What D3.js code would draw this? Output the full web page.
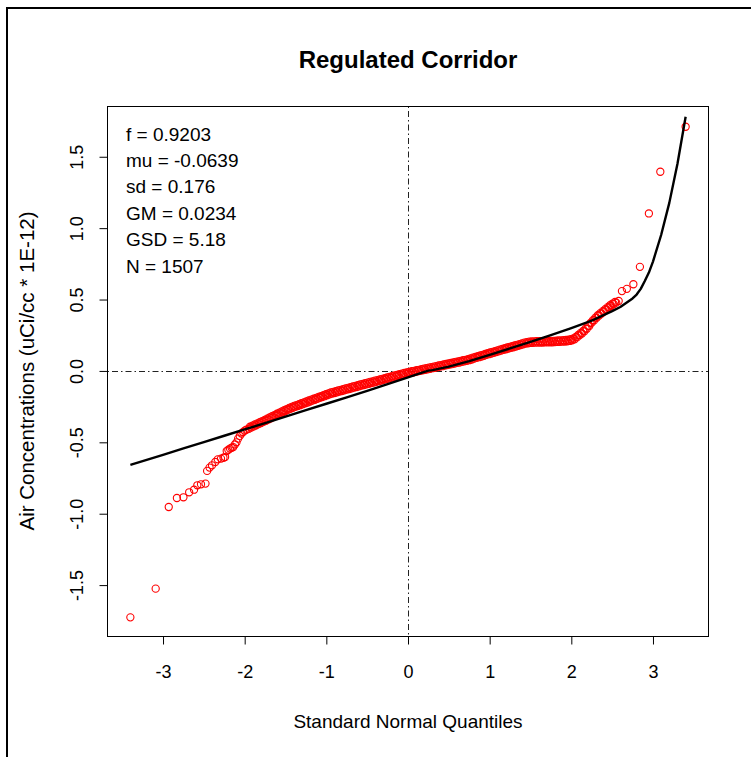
<!DOCTYPE html>
<html>
<head>
<meta charset="utf-8">
<script src="https://cdn.jsdelivr.net/npm/d3@7"></script>
<style>
  html, body { margin: 0; padding: 0; background: #fff; }
  svg { display: block; }
  text { font-family: "Liberation Sans", Arial, sans-serif; fill: #000; }
</style>
</head>
<body>
<svg id="chart" width="751" height="757"></svg>
<script>
// ---- data -------------------------------------------------------------
const title = "Regulated Corridor";
const xLabel = "Standard Normal Quantiles";
const yLabel = "Air Concentrations (uCi/cc * 1E-12)";
const statLines = ["f = 0.9203", "mu = -0.0639", "sd = 0.176", "GM = 0.0234", "GSD = 5.18", "N = 1507"];

const xTicks = [-3, -2, -1, 0, 1, 2, 3];
const yTicks = [-1.5, -1.0, -0.5, 0.0, 0.5, 1.0, 1.5];

// lower tail of the sample (theoretical quantile, observed value)
const lowerQ = [-3.40, -3.09, -2.93, -2.83, -2.75, -2.68, -2.62, -2.58, -2.535, -2.48, -2.46, -2.43, -2.40, -2.36, -2.33,
                -2.29, -2.26, -2.24, -2.22, -2.20, -2.18, -2.16, -2.14, -2.12, -2.10, -2.08, -2.06, -2.04, -2.02, -2.00, -1.98];
const lowerV = [-1.726, -1.525, -0.953, -0.890, -0.885, -0.850, -0.832, -0.801, -0.794, -0.789, -0.700, -0.677, -0.661, -0.638, -0.619,
                -0.614, -0.608, -0.603, -0.561, -0.552, -0.544, -0.538, -0.533, -0.515, -0.500, -0.474, -0.455, -0.439, -0.428, -0.418, -0.412];

// central body of the sample, lower run
const bodyQ = [-1.95, -1.92, -1.89, -1.86, -1.83, -1.80, -1.77, -1.74, -1.71, -1.68, -1.65, -1.62, -1.59, -1.56, -1.53, -1.50,
               -1.47, -1.44, -1.41, -1.38, -1.35, -1.32, -1.29, -1.26, -1.23, -1.20, -1.17, -1.14, -1.11, -1.08, -1.05, -1.02,
               -0.99, -0.96, -0.93, -0.90, -0.87, -0.84, -0.81, -0.78, -0.75, -0.72, -0.69, -0.66, -0.63, -0.60, -0.57, -0.54,
               -0.51, -0.48, -0.45, -0.42, -0.39, -0.36, -0.33, -0.30, -0.27, -0.24, -0.21, -0.18, -0.15, -0.12, -0.09, -0.06,
               -0.03, 0.00, 0.03, 0.06, 0.09, 0.12, 0.15, 0.18, 0.21, 0.24, 0.27, 0.30, 0.33, 0.36, 0.39, 0.42,
               0.45, 0.48, 0.51, 0.54, 0.57, 0.60, 0.63, 0.66, 0.69, 0.72, 0.75, 0.78, 0.81, 0.84, 0.87, 0.90,
               0.93, 0.96, 0.99, 1.02, 1.05, 1.08, 1.11, 1.14, 1.17, 1.20, 1.23, 1.26, 1.29, 1.32, 1.35, 1.38,
               1.41, 1.44, 1.47, 1.50, 1.53, 1.56, 1.59, 1.62, 1.65, 1.68, 1.71, 1.74, 1.77, 1.80, 1.83, 1.86,
               1.89, 1.92, 1.95, 1.98, 2.01, 2.04, 2.07, 2.10, 2.13, 2.16, 2.19, 2.22, 2.25, 2.28, 2.31, 2.34,
               2.37, 2.40, 2.43, 2.46, 2.49, 2.52, 2.55];
const bodyV = [-0.405, -0.397, -0.389, -0.381, -0.373, -0.365, -0.357, -0.349, -0.340, -0.332, -0.323, -0.315, -0.306, -0.298, -0.290, -0.281,
               -0.273, -0.265, -0.259, -0.252, -0.246, -0.240, -0.233, -0.227, -0.221, -0.214, -0.208, -0.202, -0.196, -0.189, -0.183, -0.177,
               -0.170, -0.164, -0.159, -0.155, -0.150, -0.145, -0.141, -0.136, -0.131, -0.127, -0.122, -0.117, -0.113, -0.108, -0.103, -0.099,
               -0.094, -0.090, -0.085, -0.081, -0.076, -0.072, -0.067, -0.063, -0.058, -0.054, -0.049, -0.045, -0.040, -0.036, -0.031, -0.027,
               -0.022, -0.018, -0.014, -0.011, -0.007, -0.003, 0.000, 0.004, 0.008, 0.011, 0.015, 0.019, 0.022, 0.026, 0.030, 0.033,
               0.037, 0.041, 0.044, 0.048, 0.052, 0.056, 0.059, 0.063, 0.067, 0.070, 0.075, 0.080, 0.086, 0.091, 0.096, 0.101,
               0.106, 0.112, 0.117, 0.122, 0.127, 0.132, 0.137, 0.142, 0.147, 0.152, 0.157, 0.162, 0.166, 0.171, 0.176, 0.181,
               0.186, 0.191, 0.194, 0.196, 0.197, 0.198, 0.198, 0.199, 0.199, 0.200, 0.200, 0.201, 0.201, 0.202, 0.203, 0.204,
               0.205, 0.206, 0.208, 0.210, 0.215, 0.222, 0.235, 0.250, 0.262, 0.278, 0.295, 0.315, 0.338, 0.355, 0.372, 0.388,
               0.402, 0.416, 0.430, 0.444, 0.456, 0.468, 0.478];

// central body of the sample, upper run (interleaved with the lower run)
const bodyQ2 = [-1.935, -1.905, -1.875, -1.845, -1.815, -1.785, -1.755, -1.725, -1.695, -1.665, -1.635, -1.605, -1.575, -1.545, -1.515, -1.485,
                -1.455, -1.425, -1.395, -1.365, -1.335, -1.305, -1.275, -1.245, -1.215, -1.185, -1.155, -1.125, -1.095, -1.065, -1.035, -1.005,
                -0.975, -0.945, -0.915, -0.885, -0.855, -0.825, -0.795, -0.765, -0.735, -0.705, -0.675, -0.645, -0.615, -0.585, -0.555, -0.525,
                -0.495, -0.465, -0.435, -0.405, -0.375, -0.345, -0.315, -0.285, -0.255, -0.225, -0.195, -0.165, -0.135, -0.105, -0.075, -0.045,
                -0.015, 0.015, 0.045, 0.075, 0.105, 0.135, 0.165, 0.195, 0.225, 0.255, 0.285, 0.315, 0.345, 0.375, 0.405, 0.435,
                0.465, 0.495, 0.525, 0.555, 0.585, 0.615, 0.645, 0.675, 0.705, 0.735, 0.765, 0.795, 0.825, 0.855, 0.885, 0.915,
                0.945, 0.975, 1.005, 1.035, 1.065, 1.095, 1.125, 1.155, 1.185, 1.215, 1.245, 1.275, 1.305, 1.335, 1.365, 1.395,
                1.425, 1.455, 1.485, 1.515, 1.545, 1.575, 1.605, 1.635, 1.665, 1.695, 1.725, 1.755, 1.785, 1.815, 1.845, 1.875,
                1.905, 1.935, 1.965, 1.995, 2.025, 2.055, 2.085, 2.115, 2.145, 2.175, 2.205, 2.235, 2.265, 2.295, 2.325, 2.355,
                2.385, 2.415, 2.445, 2.475, 2.505, 2.535];
const bodyV2 = [-0.391, -0.383, -0.375, -0.367, -0.359, -0.351, -0.343, -0.334, -0.326, -0.317, -0.309, -0.300, -0.292, -0.284, -0.275, -0.267,
                -0.259, -0.252, -0.245, -0.239, -0.233, -0.226, -0.220, -0.214, -0.207, -0.201, -0.195, -0.189, -0.182, -0.176, -0.170, -0.163,
                -0.157, -0.151, -0.147, -0.142, -0.137, -0.133, -0.128, -0.123, -0.119, -0.114, -0.109, -0.105, -0.100, -0.095, -0.091, -0.086,
                -0.082, -0.077, -0.073, -0.068, -0.064, -0.059, -0.055, -0.050, -0.046, -0.041, -0.037, -0.032, -0.028, -0.023, -0.019, -0.014,
                -0.010, -0.006, -0.002, 0.001, 0.005, 0.008, 0.012, 0.016, 0.019, 0.023, 0.027, 0.030, 0.034, 0.038, 0.041, 0.045,
                0.049, 0.052, 0.056, 0.060, 0.064, 0.067, 0.071, 0.075, 0.078, 0.082, 0.087, 0.093, 0.098, 0.103, 0.108, 0.113,
                0.119, 0.124, 0.129, 0.134, 0.139, 0.144, 0.149, 0.154, 0.159, 0.164, 0.169, 0.174, 0.178, 0.183, 0.188, 0.193,
                0.198, 0.202, 0.205, 0.206, 0.207, 0.208, 0.208, 0.209, 0.209, 0.210, 0.210, 0.211, 0.211, 0.212, 0.213, 0.214,
                0.215, 0.217, 0.219, 0.222, 0.228, 0.238, 0.252, 0.266, 0.280, 0.296, 0.315, 0.336, 0.356, 0.373, 0.390, 0.405,
                0.419, 0.433, 0.447, 0.460, 0.472, 0.483];

// upper tail of the sample
const upperQ = [2.58, 2.62, 2.68, 2.76, 2.84, 2.95, 3.09, 3.40];
const upperV = [0.490, 0.559, 0.575, 0.607, 0.729, 1.103, 1.395, 1.710];

// fitted mixture quantile curve
const fitQ = [-3.40, -3.00, -2.75, -2.50, -2.25, -2.00, -1.75, -1.50, -1.25, -1.00, -0.75, -0.50, -0.25, 0.00,
              0.20, 0.25, 0.30, 0.50, 0.75, 1.00, 1.25, 1.50, 1.75, 2.00, 2.25, 2.50, 2.60, 2.75, 2.80, 2.85,
              2.90, 2.95, 3.00, 3.10, 3.20, 3.30, 3.40];
const fitV = [-0.658, -0.588, -0.543, -0.499, -0.454, -0.410, -0.365, -0.320, -0.275, -0.230, -0.185, -0.139, -0.092, -0.045,
              -0.006, 0.002, 0.006, 0.030, 0.069, 0.113, 0.158, 0.203, 0.250, 0.300, 0.352, 0.419, 0.448, 0.508, 0.535, 0.575,
              0.630, 0.689, 0.766, 0.952, 1.177, 1.451, 1.780];

// ---- layout -----------------------------------------------------------
const svg = d3.select("#chart");
const plot = { left: 107.5, right: 708.5, top: 106.5, bottom: 636.5 };

const x = d3.scaleLinear().domain([-3.68, 3.68]).range([plot.left, plot.right]);
const y = d3.scaleLinear().domain([-1.86, 1.852]).range([plot.bottom, plot.top]);

// outer frame of the figure
svg.append("path")
  .attr("d", "M7,757 V8 H751")
  .attr("fill", "none").attr("stroke", "#000").attr("stroke-width", 2);

// reference lines through the origin
const refStyle = sel => sel.attr("stroke", "#222").attr("stroke-width", 1)
  .attr("stroke-dasharray", "1.5,3,6,3").attr("fill", "none");
svg.append("line").call(refStyle)
  .attr("x1", Math.round(x(0)) + 0.5).attr("x2", Math.round(x(0)) + 0.5)
  .attr("y1", plot.top).attr("y2", plot.bottom);
svg.append("line").call(refStyle)
  .attr("y1", Math.round(y(0)) + 0.5).attr("y2", Math.round(y(0)) + 0.5)
  .attr("x1", plot.left).attr("x2", plot.right);

// sample points
const points = [];
[[lowerQ, lowerV], [bodyQ, bodyV], [bodyQ2, bodyV2], [upperQ, upperV]].forEach(([qs, vs]) => {
  qs.forEach((q, i) => points.push({ q, v: vs[i] }));
});
svg.append("g").selectAll("circle").data(points).join("circle")
  .attr("cx", d => x(d.q)).attr("cy", d => y(d.v)).attr("r", 3.6)
  .attr("fill", "none").attr("stroke", "#ff0000").attr("stroke-width", 1.1);

// fitted curve
const fit = fitQ.map((q, i) => ({ q, v: fitV[i] }));
svg.append("path").datum(fit)
  .attr("d", d3.line().x(d => x(d.q)).y(d => y(d.v)))
  .attr("fill", "none").attr("stroke", "#000").attr("stroke-width", 2.4)
  .attr("stroke-linejoin", "round");

// plot box
svg.append("rect")
  .attr("x", plot.left).attr("y", plot.top)
  .attr("width", plot.right - plot.left).attr("height", plot.bottom - plot.top)
  .attr("fill", "none").attr("stroke", "#000").attr("stroke-width", 1);

// axes
const xAxis = svg.append("g").attr("transform", `translate(0,${plot.bottom})`)
  .call(d3.axisBottom(x).tickValues(xTicks).tickFormat(d => String(d)).tickSize(8).tickPadding(0));
xAxis.select(".domain").remove();
xAxis.selectAll("line").attr("stroke", "#000");
xAxis.selectAll("text").attr("font-size", 18).attr("font-family", "Liberation Sans, Arial, sans-serif")
  .attr("y", 41).attr("dy", 0).attr("fill", "#000");

const yAxis = svg.append("g").attr("transform", `translate(${plot.left},0)`)
  .call(d3.axisLeft(y).tickValues(yTicks).tickFormat(d => d.toFixed(1)).tickSize(8).tickPadding(0));
yAxis.select(".domain").remove();
yAxis.selectAll("line").attr("stroke", "#000");
yAxis.selectAll("text").attr("font-size", 18).attr("font-family", "Liberation Sans, Arial, sans-serif")
  .attr("x", 0).attr("y", -25).attr("dy", 0).attr("text-anchor", "middle")
  .attr("transform", "rotate(-90)").attr("fill", "#000");

// titles
svg.append("text").attr("x", 408).attr("y", 68).attr("text-anchor", "middle")
  .attr("font-size", 24).attr("font-weight", "bold").text(title);
svg.append("text").attr("x", 408).attr("y", 728).attr("text-anchor", "middle")
  .attr("font-size", 19).text(xLabel);
svg.append("text").attr("transform", "translate(34,371) rotate(-90)").attr("text-anchor", "middle")
  .attr("font-size", 20.5).text(yLabel);

// summary statistics
svg.append("g").selectAll("text").data(statLines).join("text")
  .attr("x", 126).attr("y", (d, i) => 140.5 + i * 26.4)
  .attr("font-size", 19).text(d => d);
</script>
</body>
</html>
